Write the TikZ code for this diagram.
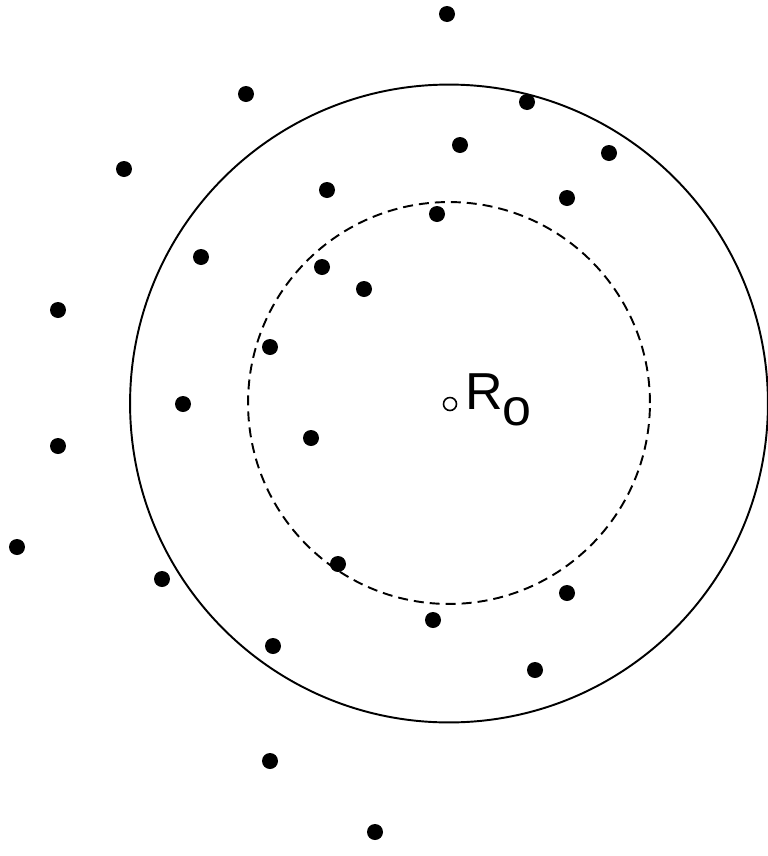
\documentclass[tikz,border=0pt]{standalone}
\usepackage{fontspec}
\setmainfont{Liberation Sans}
\usetikzlibrary{shapes,positioning}
\tikzstyle{pt}=[circle,fill=black,inner sep=0pt,minimum size=0.32cm]
\tikzstyle{orig}=[circle,draw,line width=0.9pt,inner sep=0pt,minimum size=0.26cm]
\tikzstyle{ring}=[circle,draw,line width=1.1pt,inner sep=0pt,minimum size=12.76cm]
\tikzstyle{inner}=[circle,draw,line width=1.1pt,dash pattern=on 0.2cm off 0.12cm,inner sep=0pt,minimum size=8.04cm]
\tikzstyle{lbl}=[inner sep=0pt,font=\fontsize{29.6}{32}\selectfont]

\begin{document}
\begin{tikzpicture}[x=0.02cm,y=-0.02cm]
\useasboundingbox (0,0) rectangle (768,856);
\node[ring] (R) at (449,403.5) {};
\node[inner] (D) at (449,403) {};
\node[orig] (O) at (450,404) {};
\node[lbl,anchor=base west] (L) at (465,409) {R\raisebox{-0.32em}{o}};
% points
\node[pt] (p1) at (447,14) {};
\node[pt] (p2) at (246,94) {};
\node[pt] (p3) at (527,102) {};
\node[pt] (p4) at (124,169) {};
\node[pt] (p5) at (460,145) {};
\node[pt] (p6) at (609,153) {};
\node[pt] (p7) at (327,190) {};
\node[pt] (p8) at (567,198) {};
\node[pt] (p9) at (437,214) {};
\node[pt] (p10) at (201,257) {};
\node[pt] (p11) at (322,267) {};
\node[pt] (p12) at (364,289) {};
\node[pt] (p13) at (58,310) {};
\node[pt] (p14) at (270,347) {};
\node[pt] (p15) at (183,404) {};
\node[pt] (p16) at (311,438) {};
\node[pt] (p17) at (58,446) {};
\node[pt] (p18) at (17,547) {};
\node[pt] (p19) at (338,564) {};
\node[pt] (p20) at (162,579) {};
\node[pt] (p21) at (567,593) {};
\node[pt] (p22) at (433,620) {};
\node[pt] (p23) at (273,646) {};
\node[pt] (p24) at (535,670) {};
\node[pt] (p25) at (270,761) {};
\node[pt] (p26) at (375,832) {};
\end{tikzpicture}
\end{document}
